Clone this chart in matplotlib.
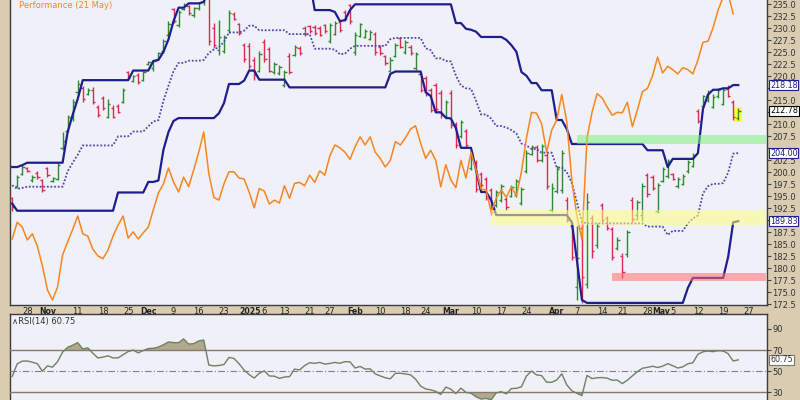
import numpy as np
import pandas as pd
import matplotlib
matplotlib.use("Agg")
import matplotlib.pyplot as plt
from matplotlib.collections import LineCollection
from matplotlib.patches import Rectangle

# ---------------- data ----------------
first_day = "2024-10-23"
last_axis_day = "2025-05-30"
holidays = ["2024-11-28", "2024-12-25", "2025-01-01", "2025-01-09",
            "2025-01-20", "2025-02-17", "2025-04-18", "2025-05-26"]

opens = [194.6, 197.2, 199.7, 201.0, 198.3, 199.9, 198.5, 201.0, 198.2, 198.6,
         205.1, 208.7, 211.3, 216.8, 217.5, 216.3, 217.2, 213.6, 215.4, 211.6,
         213.4, 213.8, 214.7, 220.8, 219.1, 220.2, 219.3, 222.5, 221.7, 223.7,
         225.2, 228.7, 234.0, 230.6, 234.0, 234.6, 232.7, 234.2, 235.4, 238.9,
         230.1, 225.4, 225.2, 229.6, 233.0, 230.9, 226.5, 226.4, 223.4, 221.2,
         227.1, 225.7, 220.8, 220.6, 218.1, 224.2, 224.5, 226.0, 230.1, 230.4,
         230.2, 230.0, 230.7, 227.3, 228.9, 231.4, 233.5, 234.8, 225.0, 228.5,
         228.1, 227.8, 228.9, 226.2, 224.2, 221.2, 224.3, 227.9, 225.0, 226.2,
         221.7, 220.5, 219.6, 217.1, 218.1, 216.6, 211.6, 216.6, 210.1, 207.5,
         208.6, 200.9, 202.1, 199.7, 198.6, 196.4, 193.1, 194.2, 194.4, 195.1,
         195.2, 193.6, 200.2, 203.9, 205.3, 202.5, 203.7, 192.2, 196.1, 196.3,
         194.3, 188.9, 176.2, 188.4, 176.7, 190.4, 184.8, 193.1, 190.4, 188.2,
         184.2, 182.6, 182.9, 194.3, 191.2, 191.2, 199.5, 199.1, 191.9, 198.2,
         199.2, 199.7, 197.1, 197.6, 200.2, 201.4, 212.8, 213.9, 215.0, 213.7,
         215.8, 214.3, 217.4, 214.7, 211.3]
highs = [194.9, 199.4, 201.6, 201.2, 199.4, 200.2, 198.7, 201.2, 199.1, 201.9,
         208.4, 212.0, 215.3, 219.2, 218.0, 217.5, 217.7, 214.0, 215.9, 215.3,
         214.0, 214.2, 217.5, 221.2, 220.3, 220.6, 221.2, 223.2, 223.4, 225.1,
         227.7, 231.5, 234.3, 233.8, 235.2, 234.9, 234.5, 235.5, 238.4, 239.9,
         231.1, 231.8, 228.6, 233.8, 233.4, 231.2, 226.9, 226.9, 224.0, 225.3,
         227.8, 226.2, 223.0, 222.3, 221.3, 224.8, 226.5, 226.3, 230.5, 230.7,
         230.6, 230.4, 231.0, 231.2, 231.5, 231.7, 233.8, 235.0, 229.3, 231.1,
         229.9, 229.7, 229.3, 226.5, 224.5, 224.0, 226.9, 228.2, 227.6, 226.5,
         225.1, 220.9, 220.1, 217.5, 218.6, 217.1, 215.1, 217.1, 210.5, 210.9,
         209.0, 204.6, 202.6, 200.1, 199.0, 196.8, 196.3, 197.6, 194.8, 197.4,
         198.6, 197.0, 204.6, 205.7, 205.7, 205.9, 204.1, 197.8, 201.3, 204.6,
         194.8, 189.4, 188.9, 189.6, 195.7, 191.1, 189.4, 193.6, 190.8, 188.6,
         186.5, 183.2, 188.0, 194.8, 194.2, 197.8, 199.9, 199.4, 197.8, 201.1,
         202.8, 199.9, 199.0, 199.7, 202.6, 204.0, 213.2, 216.2, 217.2, 216.4,
         217.5, 217.5, 218.18, 215.1, 213.3]
lows = [192.0, 196.8, 199.4, 200.1, 198.0, 198.7, 195.8, 199.1, 198.0, 198.3,
        204.7, 208.4, 210.7, 216.4, 214.7, 216.1, 214.2, 211.5, 213.0, 211.3,
        211.3, 212.3, 214.4, 219.3, 218.8, 218.4, 219.1, 222.3, 221.2, 223.4,
        224.9, 228.4, 231.1, 230.3, 233.8, 232.8, 232.4, 233.9, 234.9, 226.5,
        225.8, 224.5, 224.9, 229.1, 231.8, 228.6, 223.0, 221.6, 219.3, 221.0,
        223.0, 220.9, 220.5, 220.3, 217.7, 220.5, 224.2, 224.5, 228.4, 229.1,
        228.7, 228.4, 229.1, 226.9, 228.6, 229.3, 231.5, 231.0, 224.5, 228.2,
        227.9, 227.5, 224.5, 224.5, 222.3, 221.0, 224.0, 225.8, 224.7, 224.5,
        221.3, 216.7, 215.9, 212.5, 212.5, 211.4, 211.2, 209.2, 205.1, 207.1,
        205.1, 200.5, 195.9, 197.0, 194.2, 191.1, 192.8, 193.8, 192.2, 194.8,
        194.8, 193.2, 199.8, 203.6, 202.1, 202.1, 196.5, 191.7, 195.7, 195.7,
        189.6, 181.7, 173.4, 172.8, 175.9, 182.2, 184.2, 189.6, 187.9, 181.7,
        183.8, 178.0, 182.4, 189.6, 190.0, 189.83, 194.8, 196.3, 191.5, 197.9,
        198.8, 198.4, 196.8, 197.3, 199.9, 201.1, 210.3, 213.6, 214.7, 213.4,
        215.5, 214.0, 215.7, 210.9, 210.9]
closes = [192.7, 199.0, 201.2, 200.3, 199.1, 199.0, 196.4, 199.5, 198.8, 201.6,
          206.6, 211.5, 214.6, 218.3, 215.2, 217.1, 214.7, 211.9, 213.4, 214.2,
          211.6, 212.6, 217.2, 219.7, 220.0, 218.8, 220.9, 223.0, 223.1, 224.8,
          227.3, 231.0, 231.6, 233.3, 234.9, 233.2, 234.2, 235.2, 237.9, 227.4,
          226.6, 228.1, 228.1, 233.2, 232.0, 229.1, 223.6, 222.1, 220.3, 224.7,
          223.7, 221.2, 222.5, 222.0, 220.9, 221.0, 226.1, 224.9, 228.8, 229.4,
          229.1, 228.7, 229.5, 230.7, 231.1, 229.7, 231.9, 231.5, 228.7, 230.8,
          229.5, 229.3, 225.0, 224.9, 222.7, 223.5, 226.5, 226.2, 227.1, 224.9,
          224.6, 217.2, 216.3, 213.0, 213.2, 211.9, 214.7, 209.8, 205.6, 210.5,
          205.6, 204.1, 196.6, 197.4, 194.7, 191.7, 195.8, 197.1, 192.7, 197.0,
          198.1, 196.6, 204.1, 205.3, 202.6, 205.5, 197.1, 196.7, 200.7, 204.0,
          190.1, 182.3, 182.1, 178.2, 193.8, 183.6, 188.9, 190.1, 188.4, 182.4,
          186.0, 179.2, 187.5, 190.2, 193.8, 197.2, 195.4, 196.7, 197.3, 200.7,
          202.3, 198.7, 198.7, 199.3, 202.2, 203.6, 210.7, 215.8, 216.8, 215.6,
          217.2, 217.1, 216.0, 211.5, 212.78]

# price-channel values for the first 20 bars (their look-back lies before the chart)
upper_early = [201.1, 201.1, 201.5, 202.0, 202.0, 202.0, 202.0, 202.0, 202.0, 202.0,
               202.0, 208.4, 212.0, 215.3, 219.2, 219.2, 219.2, 219.2, 219.2, 219.2]
lower_early = [193.5, 192.0, 192.0, 192.0, 192.0, 192.0, 192.0, 192.0, 192.0, 192.0,
               192.0, 192.0, 192.0, 192.0, 192.0, 192.0, 192.0, 192.0, 192.0, 192.0]
channel_period = 20

# orange overlay (ends 21 May)
relative = [186.1, 189.6, 188.6, 185.9, 187.2, 184.6, 180.5, 175.5, 173.4, 176.1,
            182.8, 185.5, 188.1, 190.9, 187.2, 186.7, 184.0, 182.6, 182.0, 183.8,
            186.7, 189.0, 190.9, 186.3, 187.6, 186.1, 187.4, 188.6, 192.2, 195.7,
            197.6, 200.9, 198.0, 195.9, 199.0, 197.0, 200.5, 204.2, 208.4, 199.7,
            194.8, 194.2, 197.6, 200.1, 200.1, 198.8, 198.6, 195.9, 192.6, 196.6,
            196.1, 193.4, 194.2, 193.6, 197.2, 194.6, 197.7, 197.9, 197.2, 199.4,
            197.9, 200.3, 199.4, 203.4, 205.7, 205.1, 204.2, 202.7, 205.3, 207.4,
            205.7, 207.4, 204.2, 202.9, 201.1, 202.5, 206.4, 205.7, 207.2, 209.0,
            209.7, 206.1, 202.9, 204.6, 202.5, 197.0, 201.6, 198.4, 196.8, 202.5,
            198.8, 204.2, 200.5, 196.5, 196.3, 191.7, 194.6, 196.3, 194.8, 197.0,
            195.1, 200.1, 207.2, 212.5, 212.3, 210.1, 204.2, 208.8, 210.9, 216.2,
            210.5, 198.2, 190.9, 186.0, 207.1, 212.5, 216.4, 215.5, 213.6, 211.9,
            212.5, 212.4, 214.6, 209.5, 213.0, 216.8, 217.5, 220.1, 224.0, 220.7,
            222.1, 221.4, 220.5, 221.8, 221.4, 220.5, 223.4, 227.1, 227.3, 230.1,
            233.8, 236.5, 237.1, 233.0]

rsi = [45.0, 57.0, 59.5, 59.6, 58.5, 57.0, 50.0, 55.0, 53.8, 59.0,
       68.0, 72.5, 74.5, 77.0, 71.0, 72.0, 67.0, 62.5, 63.3, 64.5,
       62.5, 62.6, 65.5, 68.5, 70.0, 67.3, 69.5, 71.4, 71.6, 72.8,
       75.0, 77.6, 77.0, 76.9, 80.5, 75.6, 76.0, 78.6, 79.4, 55.8,
       55.0, 55.4, 56.3, 63.0, 62.0, 57.0, 51.0, 46.8, 43.5, 48.0,
       50.3, 45.5, 45.3, 43.2, 44.5, 44.8, 52.0, 51.2, 55.3, 58.0,
       57.4, 58.3, 56.7, 57.3, 58.3, 57.5, 59.0, 58.8, 53.0, 54.5,
       52.0, 52.2, 47.5, 45.5, 43.8, 42.8, 48.0, 48.0, 47.4, 46.6,
       42.5, 36.0, 33.2, 32.4, 31.0, 28.0, 35.0, 33.0, 28.8, 34.0,
       30.0, 29.2, 25.8, 23.7, 24.3, 23.0, 29.5, 30.7, 28.6, 33.6,
       33.8, 35.3, 45.5, 50.1, 46.5, 45.8, 39.6, 39.5, 41.7, 47.5,
       37.0, 31.5, 29.1, 26.9, 46.0, 43.0, 43.8, 44.0, 43.4, 41.5,
       41.6, 38.3, 41.5, 45.6, 49.6, 52.8, 53.6, 54.7, 53.5, 54.7,
       57.1, 55.2, 53.0, 54.1, 57.0, 58.0, 66.0, 68.3, 69.1, 68.4,
       69.4, 69.1, 66.5, 59.6, 60.75]

tick_dates = ["2024-10-28", "2024-11-01", "2024-11-11", "2024-11-18", "2024-11-25",
              "2024-12-02", "2024-12-09", "2024-12-16", "2024-12-23", "2025-01-02",
              "2025-01-06", "2025-01-13", "2025-01-21", "2025-01-27", "2025-02-03",
              "2025-02-10", "2025-02-18", "2025-02-24", "2025-03-03", "2025-03-10",
              "2025-03-17", "2025-03-24", "2025-04-01", "2025-04-07", "2025-04-14",
              "2025-04-21", "2025-04-28", "2025-05-01", "2025-05-05", "2025-05-12",
              "2025-05-19", "2025-05-27"]
tick_texts = ["28", "Nov", "11", "18", "25", "Dec", "9", "16", "23", "2025",
              "6", "13", "21", "27", "Feb", "10", "18", "24", "Mar", "10",
              "17", "24", "Apr", "7", "14", "21", "28", "May", "5", "12",
              "19", "27"]

zone_start = ["2025-03-13", "2025-04-07", "2025-04-16"]
zone_low = [189.0, 205.8, 177.4]
zone_high = [192.15, 207.8, 179.0]

overlay_label = "Performance (21 May)"

# ---------------- styling ----------------
TAN = "#D9CCB1"
BG = "#EFF0F8"
GREEN = "#2F8A2F"
RED = "#DC2A55"
NAVY = "#1E1E8E"
MIDC = "#4A4AAE"
ORANGE = "#F7861F"
ZONE_COLORS = ["#FFFF80", "#80F080", "#FF7070"]
FS = 6.0
plt.rcParams["font.family"] = ["DejaVu Sans"]

cal = pd.bdate_range(first_day, last_axis_day)
cal = cal[~cal.isin(pd.to_datetime(holidays))]
pos_of = {d: i for i, d in enumerate(cal)}

n = len(closes)
x = np.arange(n)
H = np.array(highs)
L = np.array(lows)
upper = np.empty(n)
lower = np.empty(n)
upper[:channel_period] = upper_early
lower[:channel_period] = lower_early
for i in range(channel_period, n):
    upper[i] = H[i - channel_period:i].max()
    lower[i] = L[i - channel_period:i].min()
middle = (upper + lower) / 2

fig = plt.figure(figsize=(8, 4), dpi=100, facecolor=TAN)
ax = fig.add_axes([10 / 800, 95 / 400, 757 / 800, 305 / 400], facecolor=BG)
rx = fig.add_axes([10 / 800, 0, 757 / 800, 86 / 400], facecolor=BG)

XMIN, XMAX = -0.43, 149.7
ax.set_xlim(XMIN, XMAX)
ax.set_ylim(172.36, 235.9)

# last bar highlight
ax.add_patch(Rectangle((x[-1] - 0.75, 210.4), 1.5, 3.2, facecolor="#FFFF33",
                       edgecolor="none", zorder=2))

# OHLC bars
segs, cols = [], []
for i in range(n):
    c = GREEN if closes[i] >= opens[i] else RED
    segs.append([(x[i], lows[i]), (x[i], highs[i])])
    segs.append([(x[i] - 0.45, opens[i]), (x[i], opens[i])])
    segs.append([(x[i], closes[i]), (x[i] + 0.45, closes[i])])
    cols += [c, c, c]
ax.add_collection(LineCollection(segs, colors=cols, linewidths=1.0, zorder=3))

# channels
ax.plot(x, upper, color=NAVY, lw=1.6, zorder=4, solid_joinstyle="round")
ax.plot(x, lower, color=NAVY, lw=1.6, zorder=4, solid_joinstyle="round")
ax.plot(x, middle, color=MIDC, lw=1.3, ls=(0, (1, 1)), zorder=4)

# overlay
ax.plot(x[:len(relative)], relative, color=ORANGE, lw=1.1, zorder=5)

# zones
for s, lo, hi, zc in zip(zone_start, zone_low, zone_high, ZONE_COLORS):
    p = pos_of[pd.Timestamp(s)]
    ax.add_patch(Rectangle((p, lo), XMAX - p - 0.2, hi - lo, facecolor=zc,
                           edgecolor="none", alpha=0.55, zorder=6))

# value flags on the price axis
flags = [(upper[-1], NAVY, NAVY), (closes[-1], "#000000", "#000000"),
         (middle[-1], NAVY, NAVY), (lower[-1], NAVY, NAVY)]
flag_vals = [f[0] for f in flags]

# axes styling
for sp in ["left", "right", "bottom"]:
    ax.spines[sp].set_color("#3C3C3C")
    ax.spines[sp].set_linewidth(1.0)
ax.spines["top"].set_visible(False)
ax.yaxis.tick_right()
yt = np.arange(172.5, 235.01, 2.5)
ax.set_yticks(yt)
ax.set_yticklabels(["" if min(abs(v - fv) for fv in flag_vals) < 1.3 else f"{v:.1f}"
                    for v in yt])
ax.tick_params(axis="y", labelsize=FS, length=3, width=0.8, color="#444444",
               pad=1, labelcolor="#333333")
ax.set_xticks([])

# date labels (placed as text so that crowded pairs can be nudged)
for d, t in zip(tick_dates, tick_texts):
    p = pos_of[pd.Timestamp(d)]
    is_month = not t.isdigit() or len(t) == 4
    ha, dx = "center", 0
    if t in ("2025", "May"):
        ha, dx = "right", 5.0
    ax.annotate(t, xy=(p, 0), xycoords=("data", "axes fraction"),
                xytext=(dx, -1.6), textcoords="offset points", ha=ha, va="top",
                fontsize=5.6 if is_month else FS, color="#222222",
                fontweight="bold" if is_month else "normal", annotation_clip=False)

for v, ec, tc in flags:
    ax.annotate(f"{v:.2f}", xy=(1.0, v), xycoords=("axes fraction", "data"),
                xytext=(2.2, 0), textcoords="offset points", ha="left", va="center",
                fontsize=5.8, color=tc,
                bbox=dict(boxstyle="square,pad=0.1", fc="white", ec=ec, lw=0.8),
                annotation_clip=False, zorder=10)

fig.text(19 / 800, 1.0 - 0.5 / 400, overlay_label, color=ORANGE, fontsize=6,
         va="top", ha="left")

# ---------------- RSI panel ----------------
r = np.array(rsi)
rx.set_xlim(XMIN, XMAX)
rx.set_ylim(22.8, 104)
rx.fill_between(x, 70, r, where=r > 70, interpolate=True, facecolor="#B1A98F",
                edgecolor="none", zorder=2)
rx.fill_between(x, 30, r, where=r < 30, interpolate=True, facecolor="#B1A98F",
                edgecolor="none", zorder=2)
rx.axhline(70, color="#8A7868", lw=1.0, zorder=3)
rx.axhline(30, color="#8A7868", lw=1.0, zorder=3)
rx.axhline(50, color="#7E7E8E", lw=0.8, ls=(0, (6, 2, 1, 2)), zorder=3)
rx.plot(x, r, color="#6E8262", lw=1.0, zorder=4)
for sp in ["left", "right", "top"]:
    rx.spines[sp].set_color("#3C3C3C")
    rx.spines[sp].set_linewidth(1.0)
rx.spines["bottom"].set_visible(False)
rx.yaxis.tick_right()
rx.set_yticks([30, 50, 70, 90])
rx.tick_params(axis="y", labelsize=FS, length=3, width=0.8, color="#444444",
               pad=1, labelcolor="#333333")
rx.set_xticks([])
rx.annotate(f"{rsi[-1]:.2f}", xy=(1.0, rsi[-1]), xycoords=("axes fraction", "data"),
            xytext=(2.2, 0), textcoords="offset points", ha="left", va="center",
            fontsize=5.8, color="#333333",
            bbox=dict(boxstyle="square,pad=0.1", fc="white", ec="#777777", lw=0.8),
            annotation_clip=False, zorder=10)
rx.text(0.003, 0.96, "\u2227RSI(14) 60.75", transform=rx.transAxes, va="top",
        ha="left", fontsize=FS, color="#333333")

fig.savefig("out.png", dpi=100, facecolor=TAN)
